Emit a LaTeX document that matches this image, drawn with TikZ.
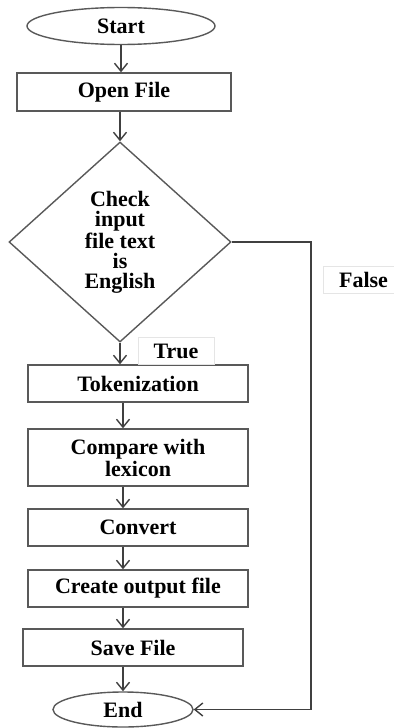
\documentclass[tikz,border=0pt]{standalone}
\usepackage{fontspec}
\setmainfont{Liberation Serif}
\usetikzlibrary{shapes.geometric, arrows.meta}

\begin{document}
\begin{tikzpicture}[x=0.5pt, y=-0.5pt, >={Straight Barb[length=4pt, width=6.5pt]},
    font=\fontsize{11}{10}\selectfont\bfseries,
    term/.style={ellipse, draw=black!65, line width=0.7pt, inner sep=0pt},
    box/.style={rectangle, draw=black!65, line width=0.7pt, inner sep=0pt,
        minimum width=110pt, minimum height=18.5pt, align=center},
    cond/.style={diamond, draw=black!65, line width=0.7pt, inner sep=0pt,
        minimum width=111pt, minimum height=100pt, align=center},
    lbl/.style={draw=black!10, line width=0.5pt, inner sep=3pt},
    flow/.style={draw=black!75, line width=0.7pt, ->}]
    \useasboundingbox (0,0) rectangle (394,728);

    % Start, open, check
    \node[term, minimum width=94pt, minimum height=18.5pt] (start) at (121,26) {Start};
    \node[box, minimum width=107pt, minimum height=19pt] (open) at (124,92) {Open File};
    \node[cond] (check) at (120,242) {Check\\input\\file text\\is\\English};

    % Processing steps
    \node[box] (tok) at (138,383.5) {Tokenization};
    \node[box, minimum height=28.5pt] (comp) at (138,457.5) {Compare with\\[1pt]lexicon};
    \node[box] (conv) at (138,527.5) {Convert};
    \node[box] (create) at (138,588.5) {Create output file};
    \node[box] (save) at (133,647.5) {Save File};
    \node[term, minimum width=70pt, minimum height=17.5pt] (end) at (123,709.5) {End};

    % Labels
    \node[lbl, minimum width=38pt, minimum height=12pt] (true) at (176,351) {True};
    \node[lbl, minimum width=40pt, minimum height=12.5pt, anchor=west] (false) at (323,280) {False};

    % Arrows
    \draw[flow] (start.south) -- (start.south |- open.north);
    \draw[flow] (open.south -| check) -- (check.north);
    \draw[flow] (check.south) -- (check.south |- tok.north);
    \draw[flow] (tok.south -| end) -- (comp.north -| end);
    \draw[flow] (comp.south -| end) -- (conv.north -| end);
    \draw[flow] (conv.south -| end) -- (create.north -| end);
    \draw[flow] (create.south -| end) -- (save.north -| end);
    \draw[flow] (save.south -| end) -- (end.north);
    \coordinate (fcorner) at (311,709.5);
    \draw[flow] (check.east) -| (fcorner) -- (end.east);
\end{tikzpicture}
\end{document}
